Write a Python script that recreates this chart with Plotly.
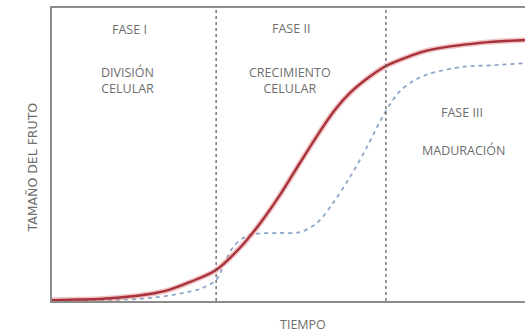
import plotly.graph_objects as go

# Fruit growth over time: red = total fruit size, blue dashed = second growth pattern
tiempo_rojo = [0, 5.9, 10.1, 14.4, 20.7, 24.9, 29.2, 34.7, 39.7, 43.9, 48.2, 52.4,
               56.7, 59.8, 63.0, 66.2, 70.6, 75.7, 79.9, 90.5, 100]
tamano_rojo = [0.3, 0.5, 0.7, 1.2, 2.4, 3.9, 6.5, 10.6, 18.1, 26.3, 36.2, 47.1,
               58.0, 65.2, 71.0, 75.4, 80.2, 83.6, 85.7, 88.1, 89.1]

tiempo_azul = [0, 10.1, 20.7, 27.7, 31.3, 34.7, 36.6, 38.3, 40.4, 42.9, 48.2, 52.4,
               56.0, 59.4, 63.0, 66.6, 69.3, 71.5, 73.6, 76.7, 79.7, 86.7, 93.7, 100]
tamano_azul = [0, 0.2, 1.0, 2.7, 4.1, 7.2, 13.3, 18.4, 21.5, 22.9, 23.2, 23.5,
               26.6, 33.4, 42.3, 52.6, 61.1, 67.2, 71.7, 75.4, 77.5, 79.9, 80.5, 81.2]

# Phase boundaries along the time axis
limites_fase = [34.7, 70.6]

# Phase labels: (x, y in paper units, text)
etiquetas = [
    (16.3, 0.925, "FASE I"),
    (16.0, 0.754, "DIVISIÓN<br>CELULAR"),
    (50.6, 0.93, "FASE II"),
    (50.4, 0.754, "CRECIMIENTO<br>CELULAR"),
    (86.7, 0.642, "FASE III"),
    (86.9, 0.515, "MADURACIÓN"),
]

FONT = "Open Sans"
GRIS = "#6e6e6e"

fig = go.Figure()

# blue dashed curve
fig.add_trace(go.Scatter(
    x=tiempo_azul, y=tamano_azul, mode="lines",
    line=dict(color="#8ea6c6", width=1.8, dash="4px,4px", shape="spline", smoothing=0.9),
    hoverinfo="skip", showlegend=False))

# red curve: soft halo under a darker core
fig.add_trace(go.Scatter(
    x=tiempo_rojo, y=tamano_rojo, mode="lines",
    line=dict(color="rgba(230,150,150,0.55)", width=5.5, shape="spline", smoothing=0.9),
    hoverinfo="skip", showlegend=False))
fig.add_trace(go.Scatter(
    x=tiempo_rojo, y=tamano_rojo, mode="lines",
    line=dict(color="#a8323c", width=2.4, shape="spline", smoothing=0.9),
    hoverinfo="skip", showlegend=False))

for xl in limites_fase:
    fig.add_shape(type="line", xref="x", yref="paper", x0=xl, x1=xl, y0=0, y1=1,
                  line=dict(color="#555555", width=1.2, dash="3px,3px"))

for x, y, t in etiquetas:
    fig.add_annotation(x=x, y=y, xref="x", yref="paper", text=t, showarrow=False,
                       font=dict(family=FONT, size=12.5, color=GRIS),
                       xanchor="center", yanchor="middle", align="center")

# axis titles
fig.add_annotation(x=-0.042, y=0.456, xref="paper", yref="paper", text="TAMAÑO DEL FRUTO",
                   textangle=-90, showarrow=False, xanchor="center", yanchor="middle",
                   font=dict(family="DejaVu Sans", size=12.5, color=GRIS))
fig.add_annotation(x=0.531, y=-0.08, xref="paper", yref="paper", text="TIEMPO",
                   showarrow=False, xanchor="center", yanchor="middle",
                   font=dict(family=FONT, size=12.5, color=GRIS))

fig.update_xaxes(range=[0, 100], showgrid=False, zeroline=False, showticklabels=False,
                 ticks="", showline=True, linecolor="#8c8c8c", linewidth=1.6, mirror=True)
fig.update_yaxes(range=[0, 100], showgrid=False, zeroline=False, showticklabels=False,
                 ticks="", showline=True, linecolor="#8c8c8c", linewidth=1.6)

fig.update_layout(
    width=525, height=333,
    margin=dict(l=52, r=0, t=8, b=32),
    paper_bgcolor="white", plot_bgcolor="white",
)

fig.write_html("out.html")
